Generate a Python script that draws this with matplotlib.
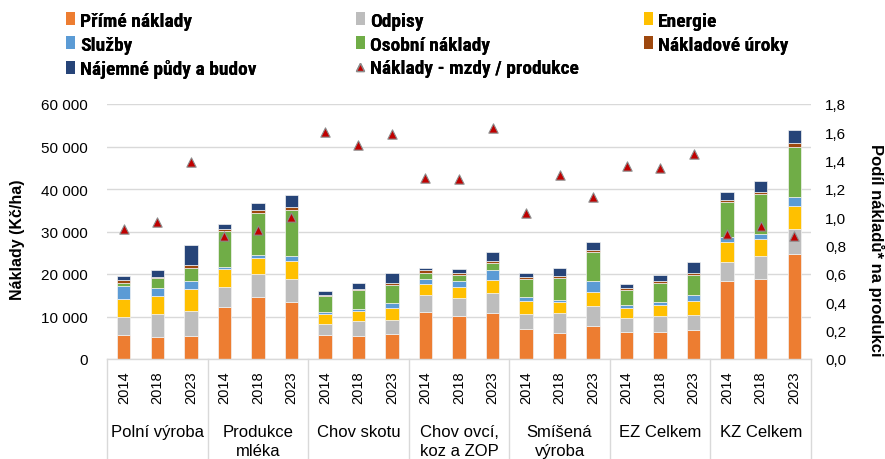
import matplotlib
matplotlib.use("Agg")
import matplotlib.pyplot as plt
import matplotlib.transforms as mtransforms
from matplotlib import font_manager
from matplotlib.font_manager import FontProperties
from matplotlib.lines import Line2D
from matplotlib.patches import Patch
import numpy as np

names = {f.name for f in font_manager.fontManager.ttflist}
BASE = "Liberation Sans" if "Liberation Sans" in names else "DejaVu Sans"
plt.rcParams['font.family'] = [BASE, 'DejaVu Sans']

# look for a condensed bold font for the legend
cond_bold = None
for cand in ["Liberation Sans Narrow", "Roboto Condensed", "Open Sans Condensed", "Arial Narrow"]:
    if cand in names:
        cond_bold = FontProperties(family=cand, weight='bold')
        break
if cond_bold is None:
    for f in font_manager.fontManager.ttflist:
        fn = f.fname.replace("\\", "/").split("/")[-1]
        if fn in ("DejaVuSansCondensed-Bold.ttf", "OpenSans_Condensed-Bold.ttf"):
            cond_bold = FontProperties(fname=f.fname)
            break
LEG_FOUND = cond_bold is not None
if cond_bold is None:
    cond_bold = FontProperties(family=BASE, weight='bold')

groups = ["Polní výroba", "Produkce\nmléka", "Chov skotu", "Chov ovcí,\nkoz a ZOP",
          "Smíšená\nvýroba", "EZ Celkem", "KZ Celkem"]
years = ["2014", "2018", "2023"]

prime = [5660, 5260, 5500, 12250, 14610, 13430, 5580, 5420, 5810, 11000, 10130, 10920,
         6990, 6130, 7700, 6440, 6280, 6760, 18300, 18930, 24820]
odpisy = [4240, 5340, 5810, 4800, 5340, 5500, 2750, 3540, 3300, 4080, 4250, 4560,
          3540, 4710, 4790, 3140, 3930, 3610, 4640, 5260, 5820]
energie = [4240, 4330, 5260, 4160, 3850, 4090, 2200, 2270, 2830, 2520, 2510, 3140,
           3220, 2670, 3380, 2520, 2440, 3380, 4550, 3930, 5260]
sluzby = [2980, 1720, 1890, 470, 630, 1100, 470, 550, 1180, 1330, 1410, 2430,
          780, 470, 2590, 630, 700, 1330, 1180, 1340, 2200]
osobni = [790, 2440, 2990, 8330, 9980, 10990, 3770, 4560, 4240, 1420, 1500, 1570,
          4400, 5190, 6600, 3610, 4640, 4720, 8250, 9350, 11700]
uroky = [790, 310, 780, 470, 550, 710, 310, 240, 550, 550, 470, 550,
         320, 310, 470, 390, 310, 550, 550, 470, 1100]
najemne = [860, 1570, 4480, 1330, 1720, 2830, 950, 1410, 2280, 550, 940, 2050,
           940, 2040, 2040, 1020, 1420, 2430, 1890, 2590, 2990]
podil = [0.92, 0.97, 1.39, 0.87, 0.91, 1.00, 1.60, 1.51, 1.59, 1.28, 1.27, 1.63,
         1.03, 1.30, 1.14, 1.36, 1.35, 1.45, 0.88, 0.94, 0.87]

series = [
    ("Přímé náklady", prime, "#ED7D31"),
    ("Odpisy", odpisy, "#BDBDBD"),
    ("Energie", energie, "#FFC000"),
    ("Služby", sluzby, "#5B9BD5"),
    ("Osobní náklady", osobni, "#70AD47"),
    ("Nákladové úroky", uroky, "#9E480E"),
    ("Nájemné půdy a budov", najemne, "#264478"),
]

fig = plt.figure(figsize=(8.85, 4.6), dpi=100)
ax = fig.add_axes([107/885, 100/460, (811-107)/885, 255/460])
x = np.arange(len(prime))
bottom = np.zeros(len(prime))
handles = {}
for name, vals, col in series:
    v = np.array(vals, dtype=float)
    ax.bar(x, v, 0.4, bottom=bottom, color=col, edgecolor="#F2F2F2", linewidth=0.5, zorder=3)
    bottom += v
    handles[name] = Patch(facecolor=col, edgecolor='none')

ax.set_xlim(-0.5, len(prime) - 0.5)
ax.set_ylim(0, 60000)
ax.set_yticks(np.arange(0, 60001, 10000))
ax.set_yticklabels([f"{int(t):,}".replace(",", " ") for t in np.arange(0, 60001, 10000)], fontsize=11)
ax.tick_params(axis='y', length=0, pad=14)
ax.grid(axis='y', color="#D9D9D9", linewidth=1, zorder=0)
for s in ax.spines.values():
    s.set_visible(False)
ax.set_xticks(x)
ax.set_xticklabels(years * len(groups), rotation=90, fontsize=10.5)
ax.tick_params(axis='x', length=0, pad=8)
fig.text(18/885, 1 - 240/460, "Náklady (Kč/ha)", fontsize=11.5, fontweight='bold',
         rotation=90, ha='center', va='center')

ax2 = ax.twinx()
ax2.set_ylim(0, 1.8)
rt = np.arange(0, 1.81, 0.2)
ax2.set_yticks(rt)
ax2.set_yticklabels([f"{t:.1f}".replace(".", ",") for t in rt], fontsize=11)
ax2.tick_params(axis='y', length=0, pad=10)
for s in ax2.spines.values():
    s.set_visible(False)
ax2.scatter(x, podil, marker='^', s=45, color="#C00000", edgecolor="#8C8C8C", linewidth=0.8, zorder=5)
fig.text(876/885, 1 - 250/460, "Podíl nákladů* na produkci", fontsize=12, fontweight='bold',
         rotation=-90, ha='center', va='center')

trans = mtransforms.blended_transform_factory(ax.transData, ax.transAxes)
ax.plot([-0.5, len(prime) - 0.5], [0, 0], transform=trans, color="#D9D9D9", lw=1, clip_on=False, zorder=4)
for g in range(len(groups) + 1):
    xb = g * 3 - 0.5
    ax.plot([xb, xb], [0, -0.4], transform=trans, color="#D9D9D9", lw=1, clip_on=False)
for g, name in enumerate(groups):
    ax.text(g * 3 + 1, -0.255, name, transform=trans, ha='center', va='top',
            fontsize=12, linespacing=1.3)

tri = Line2D([], [], marker='^', color="#C00000", markeredgecolor="#8C8C8C", markersize=6, lw=0)
cols = [
    (["Přímé náklady", "Služby", "Nájemné půdy a budov"], 58),
    (["Odpisy", "Osobní náklady", "TRI"], 348),
    (["Energie", "Nákladové úroky"], 636),
]
prop = cond_bold.copy()
prop.set_size(14 if LEG_FOUND else 11)
for labels, px in cols:
    hs = [tri if o == "TRI" else handles[o] for o in labels]
    ls = ["Náklady - mzdy / produkce" if o == "TRI" else o for o in labels]
    leg = fig.legend(hs, ls, loc='upper left', bbox_to_anchor=(px/885, 1.0 - 5/460), frameon=False,
                     prop=prop, handlelength=0.45, handleheight=0.65, handletextpad=0.3,
                     labelspacing=0.3, borderaxespad=0)
    fig.add_artist(leg)

fig.savefig("out.png", dpi=100)
